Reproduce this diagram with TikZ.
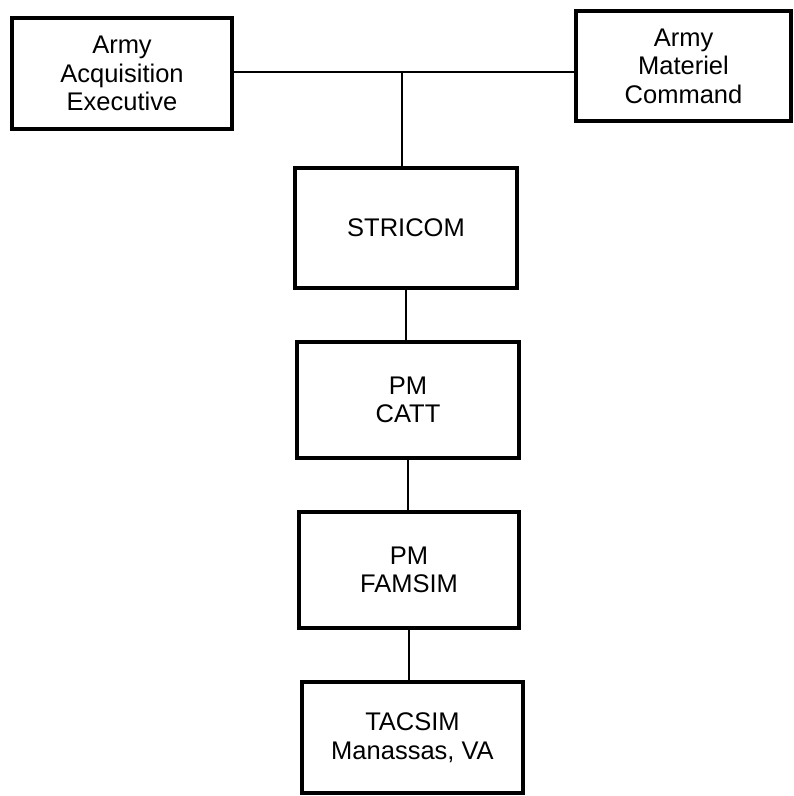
\documentclass[tikz,border=0pt]{standalone}
\usepackage{fontspec}
\setmainfont{Liberation Sans}
\begin{document}
\begin{tikzpicture}[x=1pt,y=-1pt,
  orgbox/.style={draw=black,line width=3.4pt,fill=white,align=center,inner sep=0pt,
    font=\fontsize{25.5}{28.5}\selectfont},
  conn/.style={draw=black,line width=1.4pt}]
\useasboundingbox (0,0) rectangle (794,796);
\node[orgbox,minimum width=220pt,minimum height=111pt] (aae) at (122,73.5) {Army\\Acquisition\\Executive};
\node[orgbox,minimum width=215pt,minimum height=110pt] (amc) at (683.5,66) {Army\\Materiel\\Command};
\node[orgbox,minimum width=222pt,minimum height=120pt] (str) at (406,228) {STRICOM};
\node[orgbox,minimum width=222pt,minimum height=116pt] (catt) at (408,400) {PM\\CATT};
\node[orgbox,minimum width=220pt,minimum height=116pt] (fam) at (409,570) {PM\\FAMSIM};
\node[orgbox,minimum width=221pt,minimum height=111pt] (tac) at (412.5,737.5) {TACSIM\\Manassas, VA};
\coordinate (j) at (402,72);
\draw[conn] (aae.east |- j) -- (amc.west |- j);
\draw[conn] (j) -- (j |- str.north);
\draw[conn] (str.south) -- (str.south |- catt.north);
\draw[conn] (catt.south) -- (catt.south |- fam.north);
\draw[conn] (fam.south) -- (fam.south |- tac.north);
\end{tikzpicture}
\end{document}
